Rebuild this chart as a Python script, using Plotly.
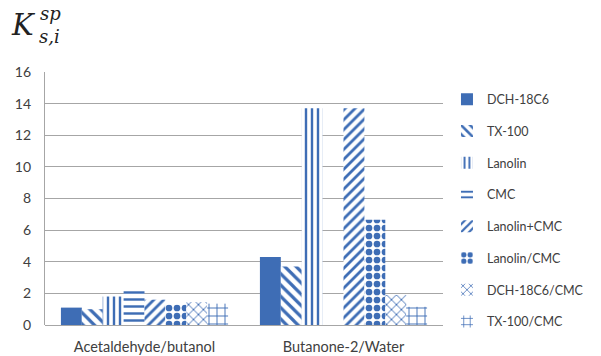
import plotly.graph_objects as go

categories = ["Acetaldehyde/butanol", "Butanone-2/Water"]
series_names = ["DCH-18C6", "TX-100", "Lanolin", "CMC", "Lanolin+CMC",
                "Lanolin/CMC", "DCH-18C6/CMC", "TX-100/CMC"]
dch18c6 = [1.1, 4.3]
tx100 = [1.0, 3.7]
lanolin = [1.8, 13.7]
cmc = [2.35, 0]
lanolin_plus_cmc = [1.6, 13.7]
lanolin_over_cmc = [1.3, 6.65]
dch_cmc = [1.45, 1.9]
tx_cmc = [1.35, 1.15]
y_ticks = [0, 2, 4, 6, 8, 10, 12, 14, 16]

series_values = [dch18c6, tx100, lanolin, cmc, lanolin_plus_cmc,
                 lanolin_over_cmc, dch_cmc, tx_cmc]
patterns = ["", "\\", "|", "-", "/", ".", "x", "+"]
sizes = [8, 8, 6, 7, 7, 8, 7, 8]
solid = [0.5, 0.4, 0.4, 0.35, 0.4, 0.55, 0.25, 0.22]

BLUE = "#3E6DB5"
fig = go.Figure()
for name, vals, pat, sz, so in zip(series_names, series_values, patterns, sizes, solid):
    if pat == "":
        marker = dict(color=BLUE, line=dict(width=0))
    else:
        marker = dict(color="white", line=dict(width=0),
                      pattern=dict(shape=pat, fgcolor=BLUE, bgcolor="white",
                                   fgopacity=1, size=sz, solidity=so,
                                   fillmode="replace"))
    fig.add_trace(go.Bar(name=name, x=categories, y=vals, marker=marker,
                         legendgroup=name))

fig.update_layout(
    width=601, height=356,
    margin=dict(l=45, r=151, t=72, b=31),
    paper_bgcolor="white", plot_bgcolor="white",
    barmode="group", bargap=0.16, bargroupgap=0,
    font=dict(family="Lato, Open Sans, sans-serif", size=13, color="#404040"),
    showlegend=True,
    legend=dict(x=1.01, xanchor="left", y=0.95, yanchor="top",
                tracegroupgap=12.5, itemwidth=30,
                font=dict(size=12.5, color="#404040"),
                bgcolor="rgba(0,0,0,0)"),
    xaxis=dict(showgrid=False, showline=False, ticks="", tickfont=dict(size=14.5),
               ticklabelstandoff=11, automargin=False),
    yaxis=dict(range=[0, 16], tickvals=y_ticks, showgrid=True,
               gridcolor="#A6A6A6", gridwidth=1.3, showline=True,
               linecolor="#A6A6A6", linewidth=1.3, zeroline=True,
               zerolinecolor="#A6A6A6", zerolinewidth=1.3, ticks="",
               tickfont=dict(size=14), ticklabelstandoff=10, automargin=False),
)

fig.add_annotation(xref="paper", yref="paper", x=-45/405, y=(325-6)/253, xshift=8,
                   xanchor="left", yanchor="top", showarrow=False,
                   text="<i>K</i>", font=dict(family="DejaVu Serif, serif", size=29, color="#222"))
fig.add_annotation(xref="paper", yref="paper", x=-45/405, y=(325-1)/253, xshift=37,
                   xanchor="left", yanchor="top", showarrow=False,
                   text="<i>sp</i>", font=dict(family="DejaVu Serif, serif", size=18, color="#222"))
fig.add_annotation(xref="paper", yref="paper", x=-45/405, y=(325-24)/253, xshift=36,
                   xanchor="left", yanchor="top", showarrow=False,
                   text="<i>s,i</i>", font=dict(family="DejaVu Serif, serif", size=18, color="#222"))

fig.write_html("out.html")
